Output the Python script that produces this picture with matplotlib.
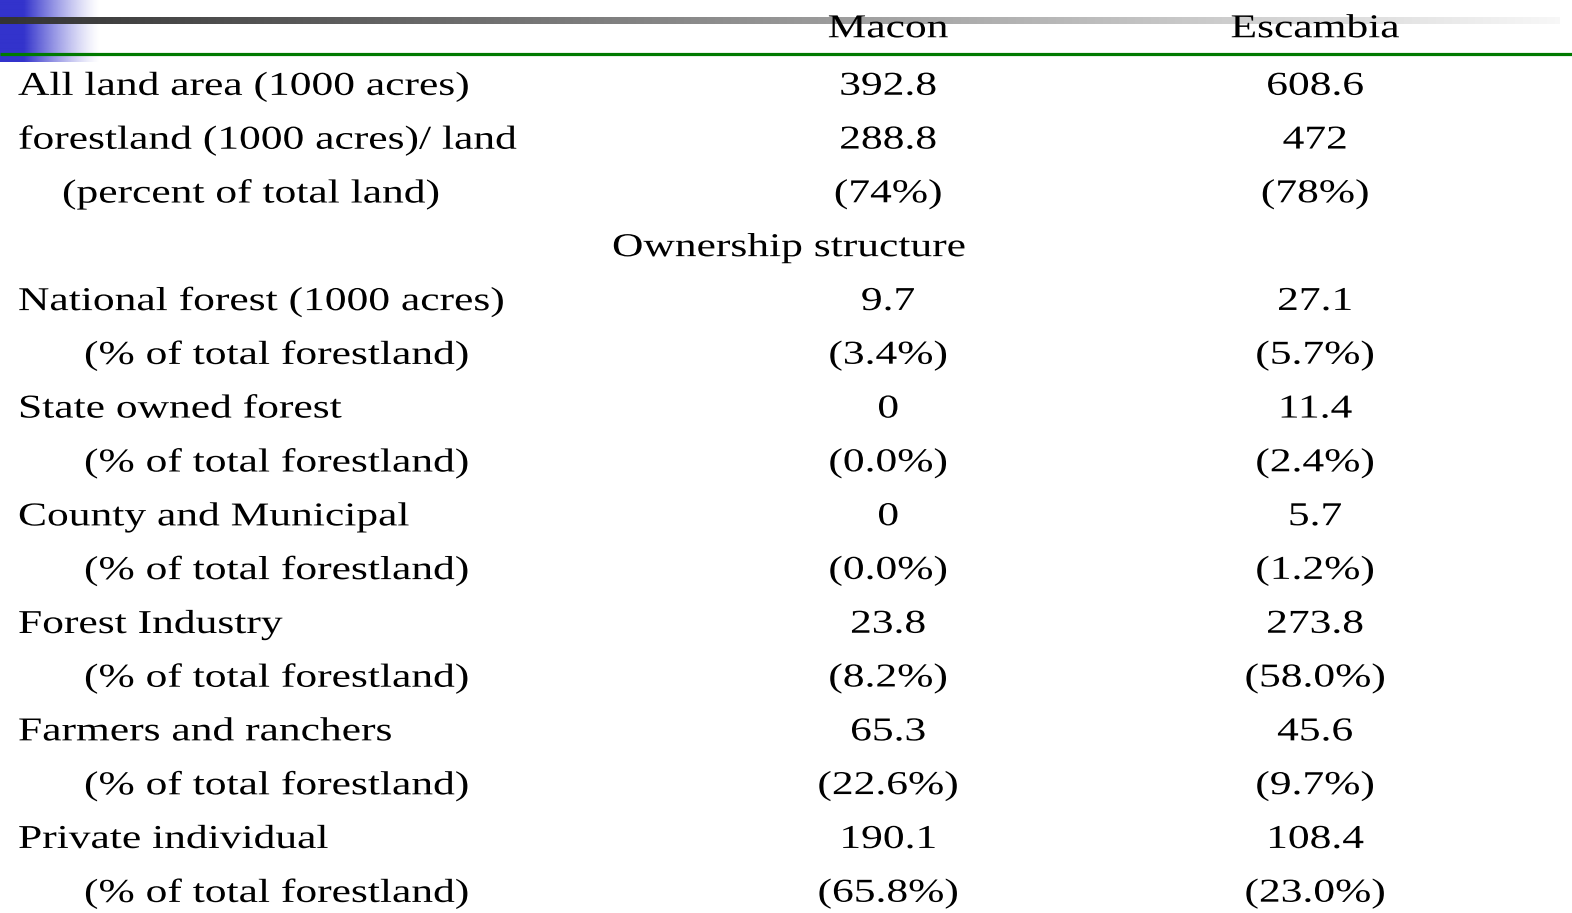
import numpy as np
import matplotlib
matplotlib.use("Agg")
import matplotlib.pyplot as plt
from matplotlib.patheffects import AbstractPathEffect
from matplotlib.transforms import Affine2D

W, H = 1572, 913

columns = ["Macon", "Escambia"]
labels = [
    "All land area (1000 acres)",
    "forestland (1000 acres)/ land",
    "(percent of total land)",
    "Ownership structure",
    "National forest (1000 acres)",
    "(% of total forestland)",
    "State owned forest",
    "(% of total forestland)",
    "County and Municipal",
    "(% of total forestland)",
    "Forest Industry",
    "(% of total forestland)",
    "Farmers and ranchers",
    "(% of total forestland)",
    "Private individual",
    "(% of total forestland)",
]
indent = [0, 0, 1, -1, 0, 2, 0, 2, 0, 2, 0, 2, 0, 2, 0, 2]
macon = ["392.8", "288.8", "(74%)", "", "9.7", "(3.4%)", "0", "(0.0%)", "0", "(0.0%)",
         "23.8", "(8.2%)", "65.3", "(22.6%)", "190.1", "(65.8%)"]
escambia = ["608.6", "472", "(78%)", "", "27.1", "(5.7%)", "11.4", "(2.4%)", "5.7", "(1.2%)",
            "273.8", "(58.0%)", "45.6", "(9.7%)", "108.4", "(23.0%)"]


class Stretch(AbstractPathEffect):
    # widen the glyphs horizontally, the slide text looks squeezed vertically
    def __init__(self, sx, mode="left"):
        super().__init__()
        self.sx = sx
        self.mode = mode

    def draw_path(self, renderer, gc, tpath, affine, rgbFace=None):
        pts = affine.transform(tpath.vertices)
        if self.mode == "center":
            x0 = (pts[:, 0].min() + pts[:, 0].max()) / 2
        else:
            x0 = affine.transform(np.array([[0.0, 0.0]]))[0, 0]
        st = affine + Affine2D().translate(-x0, 0).scale(self.sx, 1).translate(x0, 0)
        renderer.draw_path(gc, tpath, st, rgbFace)


fig = plt.figure(figsize=(W / 100, H / 100), dpi=100)
ax = fig.add_axes([0, 0, 1, 1])
ax.set_xlim(0, W)
ax.set_ylim(H, 0)
ax.axis("off")

# slide decoration: blue block fading to white
blue = np.array([0.2, 0.2, 0.8])
n = 200
xs = np.linspace(0, 100, n)
alpha = np.clip(1 - (xs - 24) / 76, 0, 1) ** 1.3
img = np.zeros((1, n, 4))
img[0, :, :3] = blue
img[0, :, 3] = alpha
ax.imshow(img, extent=(0, 100, 62, 0), aspect="auto", interpolation="bilinear", zorder=1)

# dark-to-light grey bar
g = np.linspace(0.2, 0.97, 300)
bar = np.zeros((1, 300, 4))
bar[0, :, 0] = g
bar[0, :, 1] = g
bar[0, :, 2] = g
bar[0, :, 3] = 1
ax.imshow(bar, extent=(0, 1560, 24, 17), aspect="auto", interpolation="bilinear", zorder=2)

# green rule
ax.plot([0, W], [54.5, 54.5], color="#007a00", lw=2.3, solid_capstyle="butt", zorder=3)

font = dict(family="Liberation Serif", fontsize=24, color="black", zorder=5)
sx = 1.305
col_x = [888, 1315]
indent_x = {0: 18, 1: 62, 2: 84}
pe_c = [Stretch(sx, "center")]
pe_l = [Stretch(sx, "left")]

for cx, name in zip(col_x, columns):
    ax.text(cx, 29, name, ha="center", va="center", path_effects=pe_c, **font)

y0, dy = 86.5, 53.8
for i, lab in enumerate(labels):
    y = y0 + i * dy
    if indent[i] < 0:
        ax.text(789, y, lab, ha="center", va="center", path_effects=pe_c, **font)
        continue
    ax.text(indent_x[indent[i]], y, lab, ha="left", va="center", path_effects=pe_l, **font)
    ax.text(col_x[0], y, macon[i], ha="center", va="center", path_effects=pe_c, **font)
    ax.text(col_x[1], y, escambia[i], ha="center", va="center", path_effects=pe_c, **font)

fig.savefig("out.png", dpi=100)
